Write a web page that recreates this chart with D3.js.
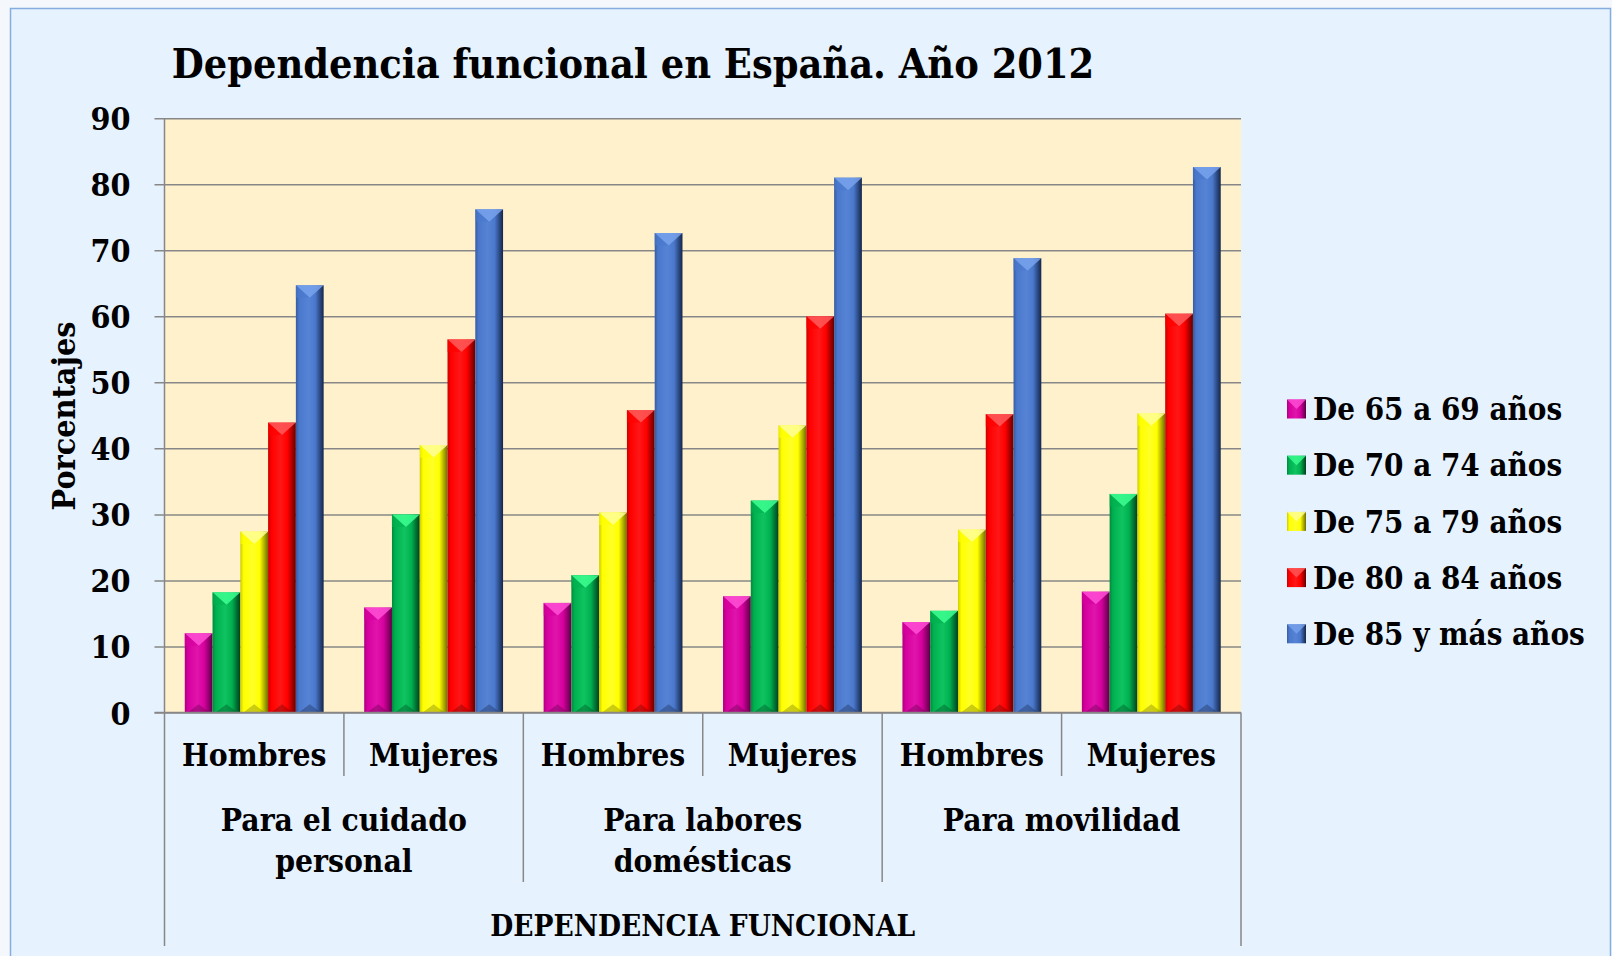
<!DOCTYPE html>
<html>
<head>
<meta charset="utf-8">
<script src="https://cdn.jsdelivr.net/npm/d3@7"></script>
<style>
  body { margin: 0; background: #f4f8fd; }
  text { font-family: 'DejaVu Serif', serif; font-stretch: condensed; font-weight: bold; fill: #000; }
</style>
</head>
<body>
<div id="chart-area"></div>
<script>
// Chart data
let groups = ['Para el cuidado|personal', 'Para labores|domésticas', 'Para movilidad'];
let sexes = ['Hombres', 'Mujeres'];
let series = ['De 65 a 69 años', 'De 70 a 74 años', 'De 75 a 79 años', 'De 80 a 84 años', 'De 85 y más años'];
let yTicks = [0, 10, 20, 30, 40, 50, 60, 70, 80, 90];

// one row per (group, sex), one value per age series
let values = [
  [12.0, 18.2, 27.4, 43.9, 64.7],
  [15.9, 30.0, 40.5, 56.5, 76.2],
  [16.6, 20.8, 30.3, 45.8, 72.6],
  [17.6, 32.1, 43.5, 60.0, 81.0],
  [13.7, 15.4, 27.7, 45.2, 68.8],
  [18.3, 33.1, 45.3, 60.4, 82.6]
];

// base / light / dark shades for each series
let colors = [
  { base: '#d6009e', light: '#ff4fd6', dark: '#5a0045' },
  { base: '#00b050', light: '#3dff90', dark: '#00401c' },
  { base: '#ffff00', light: '#ffff99', dark: '#6e6e00' },
  { base: '#ff0000', light: '#ff5a5a', dark: '#640000' },
  { base: '#4a78cc', light: '#78a2ec', dark: '#14264a' }
];

let W = 1612, H = 956;
let plot = { left: 164.5, right: 1241, top: 118.2, bottom: 712.5 };

let svg = d3.select('#chart-area')
  .append('svg')
  .attr('width', W)
  .attr('height', H);

// Gradients
let defs = svg.append('defs');
colors.forEach(function(c, i) {
  let g = defs.append('linearGradient').attr('id', 'bar' + i)
    .attr('x1', 0).attr('x2', 1).attr('y1', 0).attr('y2', 0);
  g.append('stop').attr('offset', '0%').attr('stop-color', d3.interpolateRgb(c.base, c.dark)(0.35));
  g.append('stop').attr('offset', '12%').attr('stop-color', c.base);
  g.append('stop').attr('offset', '45%').attr('stop-color', d3.interpolateRgb(c.base, c.light)(0.25));
  g.append('stop').attr('offset', '70%').attr('stop-color', c.base);
  g.append('stop').attr('offset', '100%').attr('stop-color', c.dark);
});

// Outer frame
svg.append('rect')
  .attr('x', 10.5).attr('y', 8.5)
  .attr('width', W - 12).attr('height', H - 6)
  .attr('fill', '#e6f2fe')
  .attr('stroke', '#85ade0')
  .attr('stroke-width', 1.5);

// Title
svg.append('text')
  .attr('x', 633).attr('y', 78)
  .attr('text-anchor', 'middle')
  .style('font-size', '41px')
  .text('Dependencia funcional en España. Año 2012');

// Scales
let cats = d3.range(values.length);
let x0 = d3.scaleBand().domain(cats).range([plot.left, plot.right]).padding(0);
let x1 = d3.scaleBand().domain(d3.range(series.length)).range([0, x0.bandwidth()])
  .paddingInner(0).paddingOuter(0.73);
let y = d3.scaleLinear().domain([0, 90]).range([plot.bottom, plot.top]);

// Plot background
svg.append('rect')
  .attr('x', plot.left).attr('y', plot.top)
  .attr('width', plot.right - plot.left).attr('height', plot.bottom - plot.top)
  .attr('fill', '#fff1cc');

// Y axis with gridlines
let yAxis = svg.append('g')
  .attr('transform', `translate(${plot.left},0)`)
  .call(d3.axisLeft(y).tickValues(yTicks).tickSize(-(plot.right - plot.left)).tickPadding(34));
yAxis.select('.domain').remove();
yAxis.selectAll('.tick line')
  .attr('x1', -10)
  .attr('stroke', '#878787').attr('stroke-width', 1.5);
yAxis.selectAll('.tick text')
  .style('font-family', 'DejaVu Serif')
  .style('font-stretch', 'condensed')
  .style('font-weight', 'bold')
  .style('font-size', '32px')
  .attr('dy', '0.36em');

// Axis frame lines
svg.append('line')
  .attr('x1', plot.left).attr('x2', plot.left)
  .attr('y1', plot.top).attr('y2', 946)
  .attr('stroke', '#878787').attr('stroke-width', 1.5);
svg.append('line')
  .attr('x1', plot.right).attr('x2', plot.right)
  .attr('y1', plot.bottom).attr('y2', 946)
  .attr('stroke', '#878787').attr('stroke-width', 1.5);

// Category separators
cats.slice(1).forEach(function(i) {
  let long = i % 2 === 0;
  svg.append('line')
    .attr('x1', x0(i)).attr('x2', x0(i))
    .attr('y1', plot.bottom).attr('y2', long ? 882 : 776)
    .attr('stroke', '#878787').attr('stroke-width', 1.5);
});

// Bars
let bars = svg.append('g').selectAll('g')
  .data(values)
  .join('g')
  .attr('transform', (d, i) => `translate(${x0(i)},0)`);

let bw = x1.bandwidth();
bars.each(function(row) {
  let g = d3.select(this);
  row.forEach(function(v, j) {
    let bx = x1(j), top = y(v), c = colors[j];
    g.append('rect')
      .attr('x', bx).attr('y', top)
      .attr('width', bw).attr('height', y(0) - top)
      .attr('fill', `url(#bar${j})`);
    // top bevel
    g.append('path')
      .attr('d', `M${bx},${top}L${bx + bw},${top}L${bx + bw / 2},${top + bw * 0.45}Z`)
      .attr('fill', c.light)
      .attr('opacity', 0.85);
    g.append('path')
      .attr('d', `M${bx},${top}L${bx + bw / 2},${top + bw * 0.45}L${bx + 3},${top + bw * 0.45}L${bx},${top + bw * 0.45}Z`)
      .attr('fill', c.base)
      .attr('opacity', 0.6);
    // bottom bevel
    g.append('path')
      .attr('d', `M${bx + 3},${y(0)}L${bx + bw - 3},${y(0)}L${bx + bw / 2},${y(0) - bw * 0.3}Z`)
      .attr('fill', c.dark)
      .attr('opacity', 0.35);
  });
});

// Bottom axis line
svg.append('line')
  .attr('x1', plot.left - 10).attr('x2', plot.right)
  .attr('y1', plot.bottom).attr('y2', plot.bottom)
  .attr('stroke', '#878787').attr('stroke-width', 1.5);

// Category labels
svg.append('g').selectAll('text')
  .data(cats)
  .join('text')
  .attr('x', i => x0(i) + x0.bandwidth() / 2)
  .attr('y', 766)
  .attr('text-anchor', 'middle')
  .style('font-size', '31.5px')
  .text(i => sexes[i % 2]);

// Group labels
groups.forEach(function(gname, gi) {
  let cx = x0(gi * 2) + x0.bandwidth();
  gname.split('|').forEach(function(line, li) {
    svg.append('text')
      .attr('x', cx).attr('y', 831 + li * 41)
      .attr('text-anchor', 'middle')
      .style('font-size', '31.5px')
      .text(line);
  });
});

// Axis titles
svg.append('text')
  .attr('x', (plot.left + plot.right) / 2).attr('y', 936)
  .attr('text-anchor', 'middle')
  .style('font-size', '29.5px')
  .text('DEPENDENCIA FUNCIONAL');

svg.append('text')
  .attr('transform', 'translate(75,416) rotate(-90)')
  .attr('text-anchor', 'middle')
  .style('font-size', '32px')
  .text('Porcentajes');

// Legend
let legend = svg.append('g').selectAll('g')
  .data(series)
  .join('g')
  .attr('transform', (d, i) => `translate(1287,${409 + i * 56.2})`);
legend.append('rect')
  .attr('x', 0).attr('y', -9.5)
  .attr('width', 19).attr('height', 19)
  .attr('fill', (d, i) => `url(#bar${i})`);
legend.append('path')
  .attr('d', 'M0,-9.5L19,-9.5L9.5,0Z')
  .attr('fill', (d, i) => colors[i].light)
  .attr('opacity', 0.8);
legend.append('text')
  .attr('x', 26).attr('y', 0)
  .attr('dy', '0.36em')
  .style('font-size', '31px')
  .text(d => d);
</script>
</body>
</html>
